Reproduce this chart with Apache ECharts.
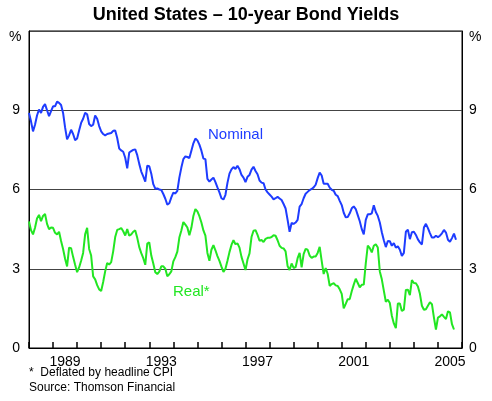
<!DOCTYPE html>
<html>
<head>
<meta charset="utf-8">
<script src="https://cdn.jsdelivr.net/npm/echarts@6/dist/echarts.min.js"></script>
<style>
html,body{margin:0;padding:0;background:#fff;}
#c{width:492px;height:401px;}
</style>
</head>
<body>
<div id="c"></div>
<script>
// ---- data ----
const startYear = 1988;          // first monthly observation (Jan 1988)
const yearCategories = ['1988','1989','1990','1991','1992','1993','1994','1995','1996','1997','1998','1999','2000','2001','2002','2003','2004','2005'];
const labelledYears = ['1989','1993','1997','2001','2005'];
const yTicks = [0, 3, 6, 9, 12];

const nominal = [
 8.9, 8.58, 8.2, 8.45, 8.8, 9.03, 8.9, 9.13, 9.23, 9.0,
 8.78, 8.97, 9.15, 9.15, 9.33, 9.28, 9.2, 8.9, 8.35, 7.9,
 8.05, 8.26, 8.1, 7.87, 7.93, 8.23, 8.52, 8.68, 8.9, 8.85,
 8.48, 8.4, 8.45, 8.8, 8.68, 8.4, 8.2, 8.1, 8.05, 8.1,
 8.12, 8.14, 8.22, 8.23, 7.95, 7.55, 7.48, 7.43, 7.2, 6.8,
 7.4, 7.45, 7.5, 7.52, 7.3, 6.97, 6.68, 6.5, 6.3, 6.9,
 6.88, 6.6, 6.2, 6.03, 6.04, 6.0, 5.98, 5.83, 5.65, 5.43,
 5.48, 5.7, 5.88, 5.85, 5.95, 6.45, 6.83, 7.15, 7.25, 7.23,
 7.19, 7.47, 7.75, 7.93, 7.86, 7.7, 7.47, 7.17, 7.15, 6.4,
 6.3, 6.38, 6.45, 6.28, 6.08, 5.89, 5.67, 5.62, 5.8, 6.25,
 6.6, 6.76, 6.85, 6.78, 6.9, 6.77, 6.55, 6.45, 6.28, 6.48,
 6.55, 6.75, 6.86, 6.7, 6.58, 6.34, 6.26, 6.24, 6.0, 5.89,
 5.81, 5.73, 5.63, 5.67, 5.72, 5.66, 5.6, 5.45, 5.28, 4.85,
 4.4, 4.73, 4.7, 4.75, 4.85, 5.35, 5.45, 5.67, 5.84, 5.91,
 5.98, 6.02, 6.08, 6.18, 6.43, 6.64, 6.53, 6.22, 6.22, 6.22,
 6.07, 5.99, 5.95, 5.8, 5.75, 5.57, 5.41, 5.12, 4.95, 4.96,
 5.1, 5.29, 5.36, 5.26, 5.03, 4.8, 4.5, 4.3, 4.85, 5.06,
 5.06, 5.1, 5.4, 5.15, 5.0, 4.75, 4.38, 4.08, 3.82, 4.05,
 4.04, 3.87, 3.97, 3.8, 3.85, 3.72, 3.48, 3.6, 4.4, 4.48,
 4.12, 4.38, 4.4, 4.28, 4.11, 4.0, 3.92, 4.56, 4.7, 4.54,
 4.35, 4.18, 4.18, 4.25, 4.2, 4.25, 4.34, 4.47, 4.37, 4.1,
 4.02, 4.16, 4.33, 4.1
];

const real = [
 4.79, 4.46, 4.3, 4.55, 4.9, 5.04, 4.8, 5.0, 5.07, 4.7,
 4.5, 4.56, 4.55, 4.36, 4.3, 4.4, 4.05, 3.75, 3.38, 3.09,
 3.8, 3.78, 3.45, 3.15, 2.87, 3.05, 3.3, 3.6, 4.3, 4.55,
 3.75, 3.5, 2.71, 2.6, 2.38, 2.22, 2.16, 2.5, 2.9, 3.22,
 3.16, 3.25, 3.66, 4.2, 4.47, 4.5, 4.54, 4.42, 4.26, 4.5,
 4.25, 4.3, 4.4, 4.45, 4.17, 3.82, 3.59, 3.4, 3.15, 3.95,
 4.0, 3.5, 3.2, 2.87, 2.8, 2.89, 3.09, 3.09, 3.0, 2.72,
 2.79, 2.9, 3.28, 3.44, 3.65, 4.18, 4.45, 4.77, 4.67, 4.56,
 4.27, 4.55, 5.0, 5.26, 5.17, 4.99, 4.75, 4.45, 4.25, 3.6,
 3.3, 3.72, 3.89, 3.7, 3.48, 3.3, 3.08, 2.88, 3.0, 3.3,
 3.63, 3.9, 4.08, 3.93, 3.96, 3.8, 3.45, 3.2, 2.95, 3.35,
 3.58, 4.2, 4.44, 4.46, 4.28, 4.06, 4.09, 4.01, 4.13, 4.17,
 4.17, 4.2, 4.27, 4.25, 4.08, 3.87, 3.79, 3.77, 3.66, 3.1,
 2.95, 3.2, 3.03, 3.06, 3.4, 3.6, 3.05, 3.55, 3.75, 3.72,
 3.5, 3.41, 3.46, 3.46, 3.6, 3.83, 3.3, 2.8, 3.03, 2.8,
 2.35, 2.42, 2.45, 2.37, 2.35, 2.22, 2.05, 1.5, 1.67, 1.85,
 1.85, 2.15, 2.4, 2.62, 2.46, 2.3, 2.39, 2.4, 3.2, 3.88,
 3.78, 3.62, 3.87, 3.93, 3.8, 2.9, 2.6, 2.17, 1.75, 1.83,
 1.7, 1.22, 0.93, 0.75, 1.68, 1.68, 1.4, 1.45, 2.2, 2.21,
 2.0, 2.57, 2.46, 2.45, 2.33, 2.05, 1.6, 1.45, 1.47, 1.6,
 1.73, 1.66, 1.15, 0.7, 1.15, 1.2, 1.27, 1.18, 1.1, 1.39,
 1.35, 0.9, 0.7
];

// ---- chart ----
const FONT = "'Liberation Sans', Arial, sans-serif";
const BLUE = '#1e3cff';
const GREEN = '#22e622';
const toPairs = arr => arr.map((v, i) => [startYear + i / 12, v]);

const chart = echarts.init(document.getElementById('c'), null, {renderer: 'canvas'});
const yMin = yTicks[0], yMax = yTicks[yTicks.length - 1];
const yLabel = v => (v === yMax ? '' : String(v));

chart.setOption({
  animation: false,
  backgroundColor: '#fff',
  textStyle: {fontFamily: FONT},
  title: {
    text: 'United States \u2013 10-year Bond Yields',
    left: 'center', top: 1,
    textStyle: {fontFamily: FONT, fontSize: 18, fontWeight: 'bold', color: '#000'}
  },
  grid: {left: 29, right: 30, top: 31, bottom: 53, show: true, borderColor: '#000', borderWidth: 1, containLabel: false},
  xAxis: [
    {
      type: 'value', min: startYear, max: startYear + yearCategories.length, interval: 1, position: 'bottom',
      z: 10,
      axisLine: {show: true, onZero: false, lineStyle: {color: '#000', width: 1}},
      axisTick: {show: true, inside: true, length: 6, lineStyle: {color: '#000', width: 1.5}},
      axisLabel: {show: false},
      splitLine: {show: false}
    },
    {
      type: 'category', data: yearCategories, boundaryGap: true, position: 'bottom',
      axisLine: {show: false, onZero: false},
      axisTick: {show: false},
      axisLabel: {
        interval: (idx, val) => labelledYears.indexOf(val) >= 0,
        color: '#000', fontSize: 14, fontFamily: FONT, margin: 7
      },
      splitLine: {show: false}
    }
  ],
  yAxis: [
    {
      type: 'value', min: yMin, max: yMax, interval: 3, position: 'left',
      axisLine: {show: true, lineStyle: {color: '#000'}},
      axisTick: {show: false},
      axisLabel: {formatter: yLabel, color: '#000', fontSize: 14, fontFamily: FONT, margin: 9},
      splitLine: {show: true, lineStyle: {color: '#444', width: 1}}
    },
    {
      type: 'value', min: yMin, max: yMax, interval: 3, position: 'right',
      axisLine: {show: true, lineStyle: {color: '#000'}},
      axisTick: {show: false},
      axisLabel: {formatter: yLabel, color: '#000', fontSize: 14, fontFamily: FONT, margin: 7},
      splitLine: {show: false}
    }
  ],
  series: [
    {
      name: 'Nominal', type: 'line', xAxisIndex: 0, yAxisIndex: 0,
      data: toPairs(nominal), showSymbol: false, symbol: 'none',
      lineStyle: {color: BLUE, width: 2}, itemStyle: {color: BLUE}, z: 3
    },
    {
      name: 'Real*', type: 'line', xAxisIndex: 0, yAxisIndex: 0,
      data: toPairs(real), showSymbol: false, symbol: 'none',
      lineStyle: {color: GREEN, width: 2}, itemStyle: {color: GREEN}, z: 2
    }
  ],
  graphic: [
    {type: 'text', left: 9, top: 30, style: {text: '%', font: '14px ' + FONT, fill: '#000'}},
    {type: 'text', left: 469, top: 30, style: {text: '%', font: '14px ' + FONT, fill: '#000'}},
    {type: 'text', left: 208, top: 127, style: {text: 'Nominal', font: '15px ' + FONT, fill: BLUE}},
    {type: 'text', left: 173, top: 284, style: {text: 'Real*', font: '15px ' + FONT, fill: GREEN}},
    {type: 'text', left: 29, top: 367, style: {text: '*  Deflated by headline CPI', font: '12px ' + FONT, fill: '#000'}},
    {type: 'text', left: 29, top: 382, style: {text: 'Source: Thomson Financial', font: '12px ' + FONT, fill: '#000'}}
  ]
});
</script>
</body>
</html>
